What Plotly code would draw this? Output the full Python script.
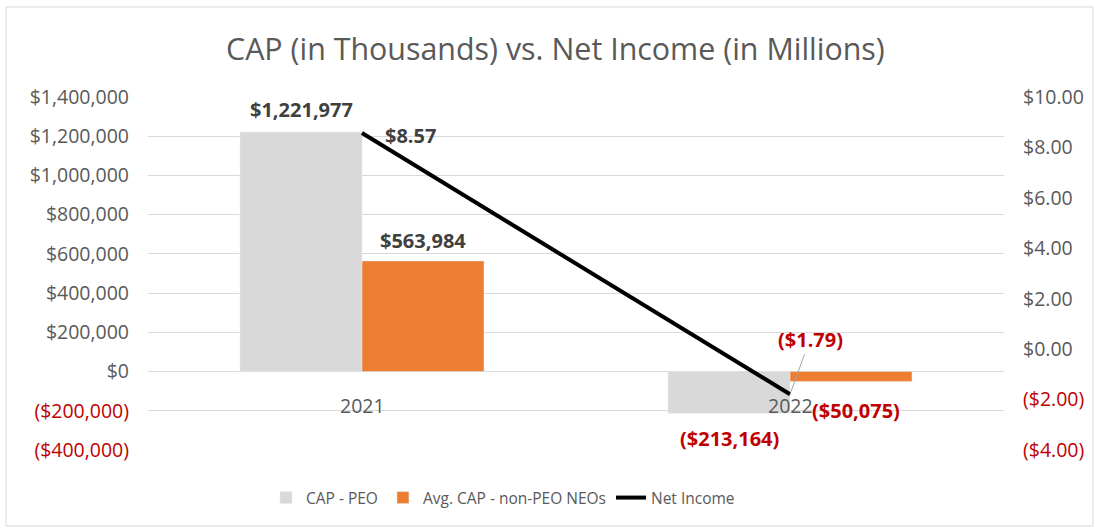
import plotly.graph_objects as go

years = ["2021", "2022"]
cap_peo = [1221977, -213164]
cap_non_peo = [563984, -50075]
net_income = [8.57, -1.79]

left_ticks = [-400000, -200000, 0, 200000, 400000, 600000, 800000, 1000000, 1200000, 1400000]
right_ticks = [-4, -2, 0, 2, 4, 6, 8, 10]

GRAY_TXT = "#595959"
RED = "#C00000"
FONT = "Open Sans"
TICK = 19.5
LBL = 20


def money_int(v):
    s = "${:,.0f}".format(abs(v))
    return "(" + s + ")" if v < 0 else s


def money_2(v):
    s = "${:,.2f}".format(abs(v))
    return "(" + s + ")" if v < 0 else s


def colored(t, v):
    c = RED if v < 0 else GRAY_TXT
    return f"<span style='color:{c}'>{t}</span>"


fig = go.Figure()
fig.add_trace(go.Bar(x=years, y=cap_peo, name="CAP - PEO", marker_color="#D9D9D9",
                     yaxis="y", hoverinfo="skip"))
fig.add_trace(go.Bar(x=years, y=cap_non_peo, name="Avg. CAP - non-PEO NEOs",
                     marker_color="#ED7D31", yaxis="y", hoverinfo="skip"))
fig.add_trace(go.Scatter(x=years, y=net_income, name="Net Income", mode="lines",
                         line=dict(color="black", width=4), yaxis="y2", hoverinfo="skip"))

ann = []
# category labels at the zero line
for i, yr in enumerate(years):
    ann.append(dict(x=i, y=0, xref="x", yref="y", text=yr, showarrow=False,
                    yanchor="top", yshift=-18, font=dict(size=TICK, color=GRAY_TXT, family=FONT)))

# bar data labels
for i, yr in enumerate(years):
    v = cap_peo[i]
    ann.append(dict(x=i, y=v, xref="x", yref="y", text=money_int(v), showarrow=False,
                    xshift=-61, yshift=(22 if v > 0 else -25), yanchor="middle",
                    font=dict(size=LBL, color=(RED if v < 0 else "#404040"), family=FONT, weight="bold")))
    v = cap_non_peo[i]
    ann.append(dict(x=i, y=v, xref="x", yref="y", text=money_int(v), showarrow=False,
                    xshift=(61 if v > 0 else 66), yshift=(20 if v > 0 else -29), yanchor="middle",
                    font=dict(size=LBL, color=(RED if v < 0 else "#404040"), family=FONT, weight="bold")))

# net income labels
ann.append(dict(x=0, y=net_income[0], xref="x", yref="y2", text=money_2(net_income[0]),
                showarrow=False, xshift=48, yshift=-2, yanchor="middle",
                font=dict(size=LBL, color="#404040", family=FONT, weight="bold")))
ann.append(dict(x=1, y=net_income[1], xref="x", yref="y2", text=money_2(net_income[1]),
                showarrow=True, arrowhead=0, arrowwidth=1, arrowcolor="#A6A6A6",
                ax=20, ay=-55, standoff=2,
                font=dict(size=LBL, color=RED, family=FONT, weight="bold")))

L, R, T, B = 148, 91, 97, 79
W, H = 1095, 529
pw, ph = W - L - R, H - T - B


def px_x(p):
    return (p - L) / pw


def px_y(p):
    return (H - B - p) / ph


# title
ann.append(dict(x=px_x(555), y=px_y(48), xref="paper", yref="paper",
                text="CAP (in Thousands) vs. Net Income (in Millions)",
                showarrow=False, xanchor="center", yanchor="middle",
                font=dict(size=30.4, color=GRAY_TXT, family=FONT)))

fig.update_layout(
    width=W, height=H,
    margin=dict(l=L, r=R, t=T, b=B),
    paper_bgcolor="white", plot_bgcolor="white",
    font=dict(family=FONT, size=TICK, color=GRAY_TXT),
    barmode="group", bargap=0.43, bargroupgap=0,
    xaxis=dict(type="category", range=[-0.5, 1.5], showticklabels=False, showgrid=False,
               zeroline=False, showline=False, fixedrange=True),
    yaxis=dict(range=[-400000, 1400000], tickvals=left_ticks,
               ticktext=[colored(money_int(v), v) for v in left_ticks],
               showgrid=True, gridcolor="#D9D9D9", gridwidth=1, zeroline=True,
               zerolinecolor="#D9D9D9", zerolinewidth=1, ticklabelstandoff=18,
               tickfont=dict(size=TICK, family=FONT)),
    yaxis2=dict(range=[-4, 10], tickvals=right_ticks, overlaying="y", side="right",
                ticktext=[colored(money_2(v), v) for v in right_ticks],
                showgrid=False, zeroline=False, ticklabelstandoff=18,
                tickfont=dict(size=TICK, family=FONT)),
    legend=dict(orientation="h", x=px_x(503), y=px_y(498), xanchor="center", yanchor="middle",
                font=dict(size=15.5, color=GRAY_TXT, family=FONT), traceorder="normal",
                itemwidth=30, tracegroupgap=0),
    showlegend=True,
    annotations=ann,
    shapes=[dict(type="rect", xref="paper", yref="paper",
                 x0=px_x(6), x1=px_x(1093), y0=px_y(526), y1=px_y(7),
                 line=dict(color="#D9D9D9", width=1), fillcolor="rgba(0,0,0,0)", layer="below")],
)

fig.write_html("out.html")
